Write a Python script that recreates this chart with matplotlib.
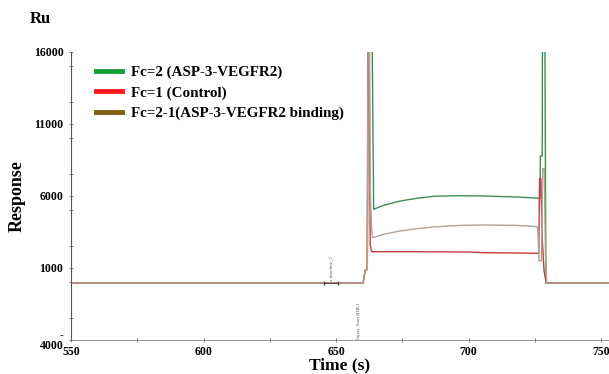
import matplotlib.pyplot as plt
from matplotlib.lines import Line2D
from matplotlib.ticker import MultipleLocator

# sensorgram traces (time in s, response in RU)
green_t = [550, 660.2, 661.0, 661.8, 662.2, 663.6, 664.2, 667.9, 674.2, 680.5, 686.7,
           696.8, 705.6, 718.2, 727.0, 727.1, 727.8, 727.9, 728.8, 729.2, 753]
green_y = [-50, -50, 850, 900, 17500, 17500, 5080, 5350, 5650, 5840, 5980,
           6020, 6000, 5930, 5840, 8780, 8780, 17500, 17500, -50, -50]

red_t = [550, 660.2, 661.0, 661.8, 662.0, 662.5, 662.9, 663.4, 680, 700, 705.6,
         718.2, 726.5, 726.8, 727.3, 727.8, 728.5, 729.3, 753]
red_y = [-50, -50, 850, 900, 17500, 17500, 2600, 2130, 2130, 2110, 2065,
         2040, 2020, 7200, 7200, 3000, 800, -50, -50]

diff_t = [550, 660.2, 661.0, 661.8, 662.1, 662.6, 662.9, 663.4, 663.8, 667.9, 674.2,
          680.5, 686.7, 696.8, 705.6, 718.2, 726.0, 726.3, 726.6, 727.5, 728.0,
          728.6, 729.0, 729.5, 753]
diff_y = [-50, -50, 850, 900, 17500, 17500, 6500, 3800, 3100, 3340, 3570,
          3730, 3850, 3960, 3990, 3960, 3870, 3000, 1500, 1500, 7900,
          7900, 2000, -50, -50]

labels = ['Fc=2 (ASP-3-VEGFR2)', 'Fc=1 (Control)', 'Fc=2-1(ASP-3-VEGFR2 binding)']
ytick_vals = [16000, 11000, 6000, 1000, -4000]
ytick_text = ['16000', '11000', '6000', '1000', '-\n4000']
xtick_vals = [550, 600, 650, 700, 750]

plt.rcParams['font.family'] = ['Liberation Serif', 'DejaVu Serif']
plt.rcParams['font.weight'] = 'bold'

fig = plt.figure(figsize=(6.09, 3.74), dpi=100)
ax = fig.add_axes([0.1166, 0.0909, 0.8834, 0.7701])

ax.plot(green_t, green_y, color='#3d8c55', lw=1.0)
ax.plot(red_t, red_y, color='#c83a3a', lw=1.0)
ax.plot(diff_t, diff_y, color='#b0a396', lw=1.0)

ax.set_xlim(550, 753)
ax.set_ylim(-4000, 16000)
for s in ['top', 'right']:
    ax.spines[s].set_visible(False)
ax.spines['left'].set_color('#555555')
ax.spines['bottom'].set_color('#888888')
ax.spines['bottom'].set_linewidth(0.6)

ax.set_yticks(ytick_vals)
ax.set_yticklabels(ytick_text, fontsize=8.5, fontweight='bold', linespacing=0.8)
ax.set_xticks(xtick_vals)
ax.set_xticklabels([str(v) for v in xtick_vals], fontsize=8.5, fontweight='bold')
ax.xaxis.set_minor_locator(MultipleLocator(25))
ax.yaxis.set_minor_locator(MultipleLocator(2500))
ax.tick_params(axis='both', which='both', direction='inout', length=3, width=0.6,
               color='#666666', pad=4)
ax.tick_params(axis='x', pad=2.5)

ax.set_xlabel('Time (s)', fontsize=12.5, fontweight='bold', labelpad=0)
ax.set_ylabel('Response', fontsize=13, fontweight='bold', labelpad=6)
fig.text(0.049, 0.95, 'Ru', fontsize=12, fontweight='bold', ha='left', va='center')

# event markers
ax.plot([645.5, 650.8], [-50, -50], color='#444444', lw=0.6, marker='|', ms=3)
ax.text(648.2, 100, 'x baseline_2', rotation=90, fontsize=3.5, color='#555555',
        ha='center', va='bottom', fontweight='normal')
ax.text(658.7, -3900, 'Inject. Start RHE1', rotation=90, fontsize=3.5, color='#555555',
        ha='center', va='bottom', fontweight='normal')

handles = [Line2D([], [], color='#18a038', lw=3.5),
           Line2D([], [], color='#ff1a1a', lw=3.5),
           Line2D([], [], color='#7f5f10', lw=3.5)]
ax.legend(handles, labels, loc='upper left', bbox_to_anchor=(0.0465, 0.952),
          frameon=False, prop={'weight': 'bold', 'size': 10.8},
          borderpad=0, borderaxespad=0,
          handlelength=1.75, handletextpad=0.6, labelspacing=0.45)

fig.savefig('out.png', dpi=100)
